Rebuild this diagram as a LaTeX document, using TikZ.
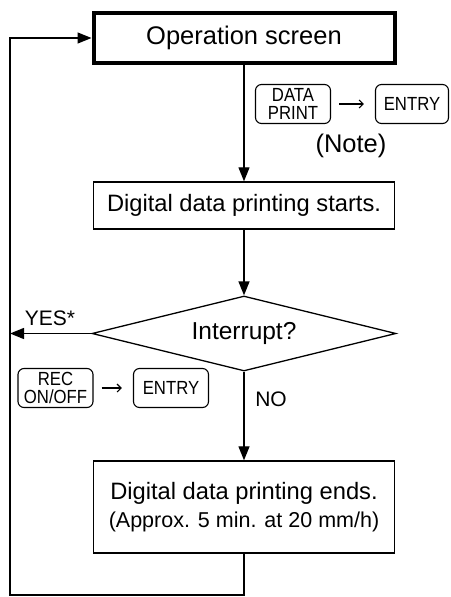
\documentclass[tikz,border=0pt]{standalone}
\usepackage{fontspec}
\setmainfont{Liberation Sans}
\newfontfamily\keyfont[FakeStretch=0.88]{Liberation Sans}
\usetikzlibrary{arrows.meta,shapes.geometric}
\newcommand{\bigtext}{\fontsize{23.7}{28}\selectfont}
\newcommand{\smalltext}{\fontsize{21.5}{28}\selectfont}

\begin{document}
\begin{tikzpicture}[
  x=1pt,y=-1pt,
  flow/.style={-{Triangle[length=14pt,width=11pt]}, line width=1.3pt},
  keyflow/.style={-{Straight Barb[length=4pt,width=8pt]}, line width=1.2pt, shorten <=8pt, shorten >=11pt},
  stepbox/.style={draw, line width=1.4pt, minimum width=301pt, align=center, inner sep=0pt},
  startbox/.style={stepbox, line width=4pt, minimum height=50pt, font=\fontsize{25.5}{26}\selectfont},
  askbox/.style={draw, diamond, aspect=4, line width=1.3pt, minimum width=304pt, minimum height=75pt, inner sep=0pt, font=\fontsize{24.5}{25}\selectfont},
  keycap/.style={draw, rounded corners=6pt, line width=1.1pt, minimum width=75pt, minimum height=39pt, inner sep=0pt, align=center, font=\keyfont\fontsize{19}{18}\selectfont},
  tag/.style={inner sep=0pt, font=\fontsize{21}{22}\selectfont},
]
\useasboundingbox (0,0) rectangle (450,597);

\node[startbox] (op) at (244,38) {Operation screen};
\node[keycap] (dp) at (293,104) {DATA\\PRINT};
\node[keycap, minimum width=73pt] (en1) at (412,104) {ENTRY};
\node[inner sep=0pt, font=\fontsize{25.5}{26}\selectfont] (note) at (351,146) {(Note)};

\node[stepbox, minimum height=47pt, font=\bigtext] (starts) at (244,205.5) {Digital data printing starts.};
\node[askbox] (intr) at (244,333.5) {Interrupt?};
\node[tag] (yes) at (50,318) {YES*};

\node[keycap] (rec) at (55.5,388) {REC\\ON/OFF};
\node[keycap] (en2) at (171,388) {ENTRY};
\node[tag] (no) at (271,399) {NO};

\node[stepbox, minimum height=92pt, font=\bigtext] (ends) at (244,507)
  {Digital data printing ends.\\{\smalltext (Approx. 5 min. at 20 mm/h)}};
\coordinate (corner) at (10,595);

\draw[flow] (op) -- (starts);
\draw[flow] (starts) -- (intr);
\draw[flow] (intr) -- (ends);
\draw[flow] (intr.west) -- (intr.west -| corner);
\draw[flow] (ends.south) |- (corner) |- (op.west);

\draw[keyflow] (dp.east) -- (en1.west);
\draw[keyflow] (rec.east) -- (en2.west);
\end{tikzpicture}
\end{document}
